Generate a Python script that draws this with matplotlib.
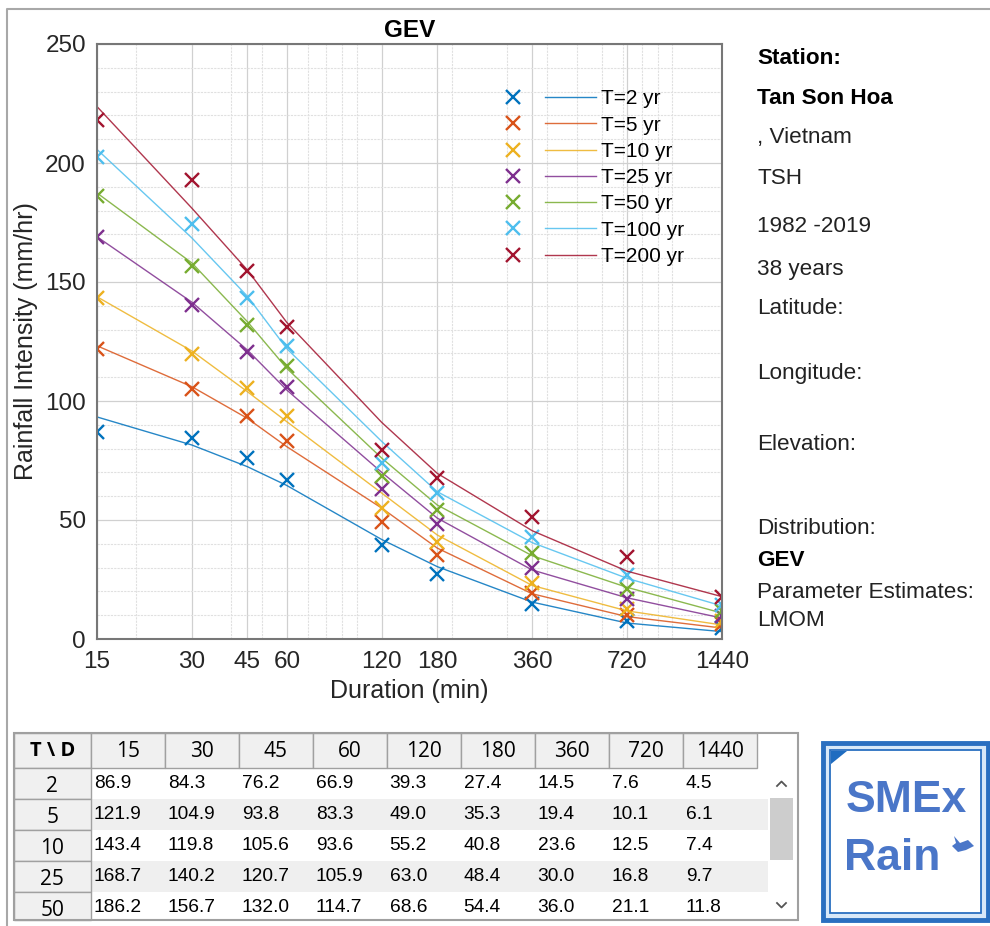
import numpy as np
import matplotlib
matplotlib.use("Agg")
import matplotlib.pyplot as plt
from matplotlib.legend_handler import HandlerTuple
from matplotlib.patches import Rectangle, Polygon
from matplotlib.ticker import FixedLocator, LogLocator, MultipleLocator, NullFormatter

plt.rcParams['font.family'] = ['Liberation Sans', 'DejaVu Sans']

# durations (min) and return periods (yr)
durations = [15, 30, 45, 60, 120, 180, 360, 720, 1440]
periods = [2, 5, 10, 25, 50, 100, 200]

# observed intensities (mm/hr), one row per return period
obs = [
    [86.9, 84.3, 76.2, 66.9, 39.3, 27.4, 14.5, 7.6, 4.5],
    [121.9, 104.9, 93.8, 83.3, 49.0, 35.3, 19.4, 10.1, 6.1],
    [143.4, 119.8, 105.6, 93.6, 55.2, 40.8, 23.6, 12.5, 7.4],
    [168.7, 140.2, 120.7, 105.9, 63.0, 48.4, 30.0, 16.8, 9.7],
    [186.2, 156.7, 132.0, 114.7, 68.6, 54.4, 36.0, 21.1, 11.8],
    [202.6, 174.3, 143.3, 123.0, 74.0, 61.3, 43.0, 26.9, 14.3],
    [218.0, 192.9, 154.5, 131.0, 79.6, 67.6, 51.3, 34.3, 17.8],
]
# fitted GEV curves
fit = [
    [93.3, 81.5, 72.4, 64.5, 41.8, 30.4, 15.5, 6.7, 3.1],
    [123.2, 106.0, 92.7, 80.8, 55.0, 38.2, 19.0, 9.4, 4.6],
    [143.8, 121.0, 103.9, 91.3, 61.3, 43.7, 22.5, 11.8, 5.9],
    [169.0, 141.5, 121.4, 104.6, 70.0, 50.8, 29.0, 17.3, 8.8],
    [187.4, 158.0, 133.3, 113.7, 76.0, 56.3, 35.0, 21.7, 10.9],
    [205.7, 168.5, 144.0, 122.0, 83.0, 61.9, 40.5, 25.5, 13.9],
    [223.7, 181.0, 155.0, 133.0, 91.0, 69.6, 45.5, 28.5, 17.8],
]
colors = ['#0072BD', '#D95319', '#EDB120', '#7E2F8E', '#77AC30', '#4DBEEE', '#A2142F']

info = [("Station:", 57, True), ("Tan Son Hoa", 97, True), (", Vietnam", 135, False),
        ("TSH", 177, False), ("1982 -2019", 224, False), ("38 years", 267, False),
        ("Latitude:", 307, False), ("Longitude:", 372, False), ("Elevation:", 442, False),
        ("Distribution:", 527, False), ("GEV", 558, True),
        ("Parameter Estimates:", 590, False), ("LMOM", 619, False)]

fig = plt.figure(figsize=(9.9, 9.26), dpi=100)
W, H = 990, 926

ax = fig.add_axes([97 / W, 1 - 639 / H, 625 / W, 595 / H])
handles = []
for i, T in enumerate(periods):
    m, = ax.plot(durations, obs[i], 'x', color=colors[i], ms=9.5, mew=1.7, ls='none')
    l, = ax.plot(durations, fit[i], '-', color=colors[i], lw=1.0, alpha=0.85)
    handles.append((m, l))

ax.set_xscale('log')
ax.set_xlim(15, 1440)
ax.set_ylim(0, 250)
ax.xaxis.set_major_locator(FixedLocator(durations))
ax.set_xticklabels([str(d) for d in durations])
ax.xaxis.set_minor_locator(LogLocator(base=10, subs=np.arange(1, 10)))
ax.xaxis.set_minor_formatter(NullFormatter())
ax.yaxis.set_major_locator(MultipleLocator(50))
ax.yaxis.set_minor_locator(MultipleLocator(10))
ax.grid(True, which='major', color='#d0d0d0', lw=0.9)
ax.grid(True, which='minor', color='#e0e0e0', lw=0.8, ls=(0, (2, 1)))
ax.set_axisbelow(True)
ax.tick_params(which='both', length=0, labelsize=17.5, colors='#262626')
ax.tick_params(axis='x', pad=9)
ax.tick_params(axis='y', pad=8)
for s in ax.spines.values():
    s.set_color('#777777')
    s.set_linewidth(1.5)
ax.set_title("GEV", fontsize=17.5, fontweight='bold', pad=5)
ax.set_xlabel("Duration (min)", fontsize=18, color='#262626', labelpad=4)
ax.set_ylabel("Rainfall Intensity (mm/hr)", fontsize=18, color='#262626', labelpad=5)

ax.legend(handles, [f"T={T} yr" for T in periods],
          handler_map={tuple: HandlerTuple(ndivide=None, pad=0.31)},
          loc='upper left', bbox_to_anchor=(0.625, 0.924), frameon=False,
          fontsize=15, handlelength=5.2, handletextpad=0.25, labelspacing=0.35,
          borderpad=0, borderaxespad=0)

# overlay in pixel coordinates for the side panel, table and logo
ov = fig.add_axes([0, 0, 1, 1])
ov.set_xlim(0, W)
ov.set_ylim(H, 0)
ov.axis('off')

ov.plot([7, 7, W], [H, 9, 9], color='#a8a8a8', lw=1.5)

for txt, y, bold in info:
    ov.text(757, y + 2, txt, fontsize=16.2, fontweight='bold' if bold else 'normal',
            va='center', ha='left', color='black' if bold else '#222222')

# table
x0, w0, cw = 14, 76.7, 74
top, hh, rh = 733, 35, 31
bottom, right = 920, 797.7
col_left = [x0 + w0 + k * cw for k in range(len(durations))]
for r in range(5):
    y = top + hh + r * rh
    if r % 2 == 1:
        ov.add_patch(Rectangle((x0 + w0, y), 768 - x0 - w0, rh, color='#efefef', lw=0))
ov.add_patch(Rectangle((x0, top), w0, hh, fc='#f0f0f0', ec='#a0a0a0', lw=1))
ov.text(x0 + w0 / 2, top + hh / 2 + 1, "T \\ D", fontsize=14.5, fontweight='bold',
        ha='center', va='center', family=['Open Sans', 'DejaVu Sans'])
for k, d in enumerate(durations):
    ov.add_patch(Rectangle((col_left[k], top), cw, hh, fc='#f0f0f0', ec='#a0a0a0', lw=1))
    ov.text(col_left[k] + cw / 2, top + hh / 2 + 1, str(d), fontsize=15,
            ha='center', va='center', family=['Open Sans', 'DejaVu Sans'])
for r in range(5):
    y = top + hh + r * rh
    ov.add_patch(Rectangle((x0, y), w0, min(rh, bottom - y), fc='#f0f0f0', ec='#a0a0a0', lw=1))
    ov.text(x0 + w0 / 2, y + rh / 2 + 3, str(periods[r]), fontsize=15,
            ha='center', va='center', family=['Open Sans', 'DejaVu Sans'])
    for k in range(len(durations)):
        ov.text(col_left[k] + 3, y + rh / 2, f"{obs[r][k]:.1f}", fontsize=13.8,
                ha='left', va='center')
ov.add_patch(Rectangle((x0, top), right - x0, bottom - top, fc='none', ec='#a0a0a0', lw=1.5))
# scrollbar
ov.add_patch(Rectangle((769.7, 798), 23, 62, color='#cdcdcd', lw=0))
ov.plot([777, 781.5, 786], [786, 781.5, 786], color='#555555', lw=1.3)
ov.plot([777, 781.5, 786], [903, 907.5, 903], color='#555555', lw=1.3)

# logo
ov.add_patch(Rectangle((823, 743), 165, 177, fc='#d8e8f8', ec='#2a6fc0', lw=3.5))
ov.add_patch(Rectangle((830, 750), 151, 163, fc='white', ec='#2a6fc0', lw=1.3))
ov.add_patch(Polygon([[831, 751], [847, 751], [831, 764]], color='#1f6cc0', lw=0))
ov.text(906, 800, "SMEx", fontsize=32, fontweight='bold', color='#4a76c8',
        ha='center', va='center')
ov.text(844, 858, "Rain", fontsize=32, fontweight='bold', color='#4a76c8',
        ha='left', va='center')
ov.add_patch(Polygon([[954, 836], [960, 843], [968, 840], [974, 846], [966, 850],
                      [958, 852], [952, 846], [956, 843]], color='#4a76c8', lw=0))

fig.savefig("out.png", dpi=100)
